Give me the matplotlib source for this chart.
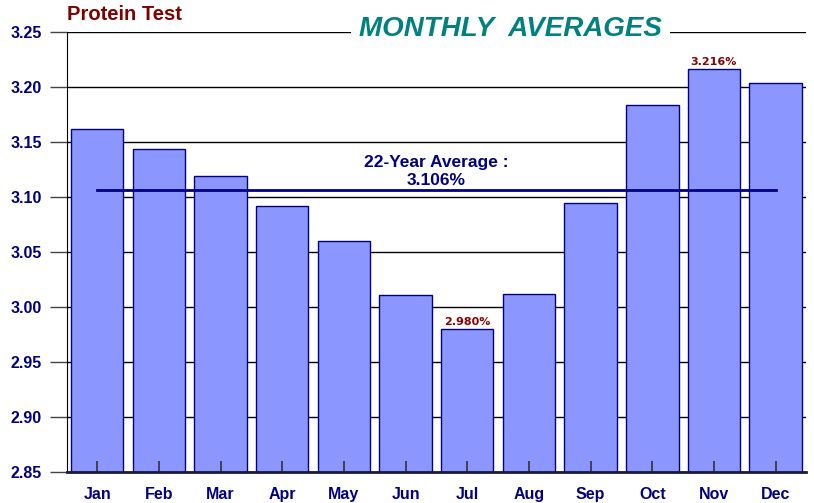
import matplotlib.pyplot as plt
import matplotlib.transforms as mtransforms

months = ["Jan", "Feb", "Mar", "Apr", "May", "Jun", "Jul", "Aug", "Sep", "Oct", "Nov", "Dec"]
protein = [3.162, 3.144, 3.119, 3.092, 3.060, 3.011, 2.980, 3.012, 3.095, 3.184, 3.216, 3.204]
avg_22yr = 3.106
yticks = [2.85, 2.90, 2.95, 3.00, 3.05, 3.10, 3.15, 3.20, 3.25]

plt.rcParams["font.family"] = ["Liberation Sans", "DejaVu Sans"]

fig = plt.figure(figsize=(8.14, 5.03), dpi=100)
ax = fig.add_axes([0.0823, 0.0616, 0.9077, 0.8748])

x = list(range(len(months)))
ax.bar(x, [v - 2.85 for v in protein], bottom=2.85, width=0.85,
       color="#8b96ff", edgecolor="#000080", linewidth=1.0, zorder=3)

ax.set_xlim(-0.49, 11.49)
ax.set_ylim(2.85, 3.25)
ax.set_yticks(yticks)
ax.set_yticklabels([f"{v:.2f}" for v in yticks], color="#000080",
                   fontweight="bold", fontsize=11.5)
ax.set_xticks(x)
ax.set_xticklabels(months, color="#000080", fontweight="bold", fontsize=11.5)
ax.tick_params(axis="x", length=0, pad=11)
ax.tick_params(axis="y", direction="out", length=12, width=1, color="#444444", pad=6)

# inward tick marks drawn above the bars
trans = mtransforms.blended_transform_factory(ax.transData, ax.transAxes)
ax.vlines(x, 0, 0.025, transform=trans, color="#333333", linewidth=1.2, zorder=4)

ax.grid(axis="y", color="black", linewidth=1, zorder=0)
for s in ["top", "right"]:
    ax.spines[s].set_visible(False)
ax.spines["left"].set_color("black")
ax.spines["bottom"].set_color("#1a1a40")
ax.spines["bottom"].set_linewidth(2)
ax.spines["bottom"].set_zorder(4)

# average line
ax.plot([0, 11], [avg_22yr, avg_22yr], color="#000080", linewidth=2, zorder=5)
ax.text(5.5, avg_22yr + 0.002, f"22-Year Average :\n{avg_22yr:.3f}%", ha="center",
        va="bottom", color="#000080", fontweight="bold", fontsize=12.5,
        linespacing=1.3, zorder=6)

# min / max labels
imin = protein.index(min(protein))
imax = protein.index(max(protein))
for i in (imin, imax):
    ax.text(i, protein[i] + 0.002, f"{protein[i]:.3f}%", ha="center", va="bottom",
            color="#8b0000", fontweight="bold", fontsize=8, family="DejaVu Sans", zorder=6)

fig.text(0.0823, 0.972, "Protein Test", color="#800000", fontweight="bold",
         fontsize=14.5, ha="left", va="center")
fig.text(0.627, 0.942, "MONTHLY  AVERAGES", color="#008080", fontweight="bold",
         fontstyle="italic", fontsize=20, ha="center", va="center",
         bbox=dict(facecolor="white", edgecolor="none", pad=6))

fig.savefig("out.png", dpi=100)
